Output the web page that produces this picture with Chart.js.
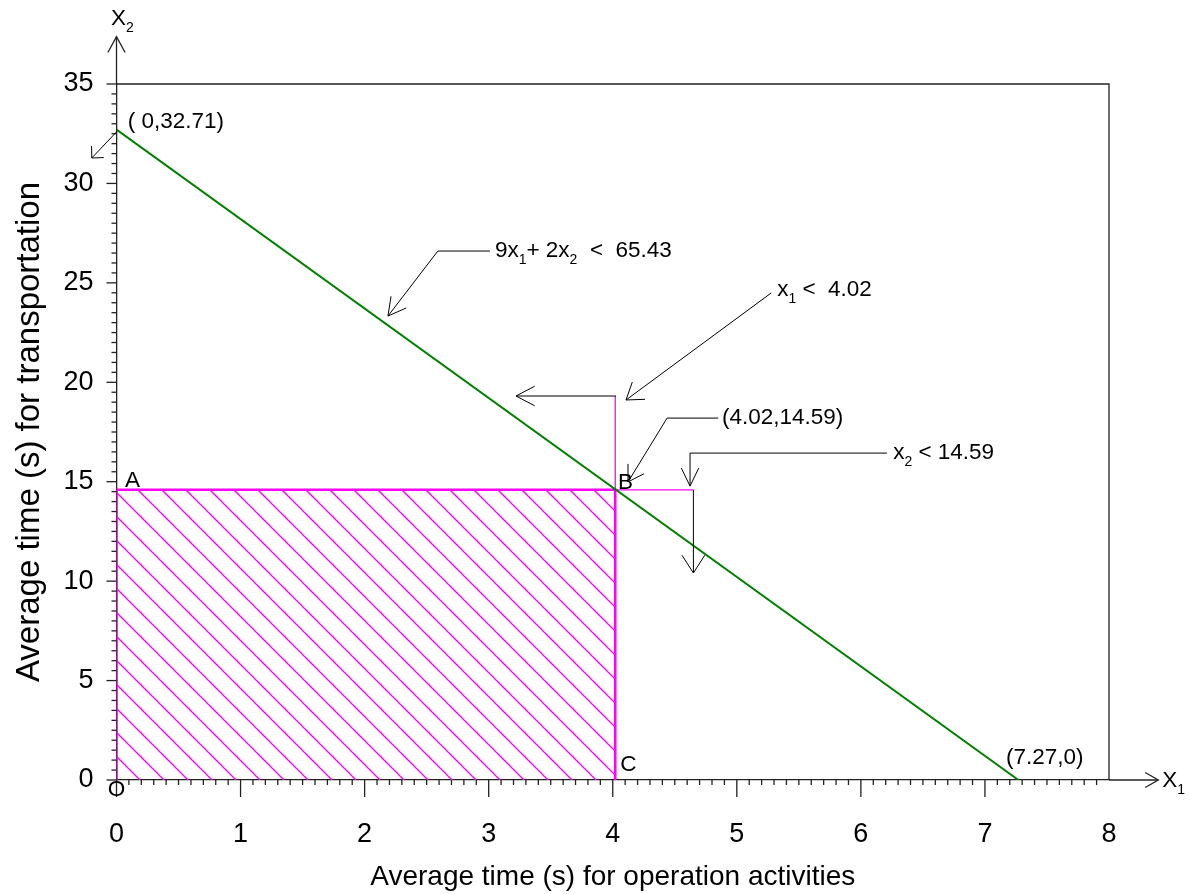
<!DOCTYPE html>
<html>
<head>
<meta charset="utf-8">
<script src="https://cdn.jsdelivr.net/npm/chart.js@4.4.1/dist/chart.umd.min.js"></script>
<style>
  html, body { margin: 0; padding: 0; background: #fff; }
</style>
</head>
<body>
<canvas id="myChart" width="1195" height="894"></canvas>
<script>
// axis ticks
const xTicks = [0, 1, 2, 3, 4, 5, 6, 7, 8];
const yTicks = [0, 5, 10, 15, 20, 25, 30, 35];

// 9x1 + 2x2 < 65.43
const constraintX = [0, 7.27];
const constraintY = [32.71, 0];

// feasible region O-A-B-C
const regionX = [0, 0, 4.02, 4.02];
const regionY = [0, 14.59, 14.59, 0];

// x1 < 4.02 and x2 < 14.59 limit lines
const x1LimitX = [4.02, 4.02];
const x1LimitY = [14.59, 19.31];
const x2LimitX = [4.02, 4.65];
const x2LimitY = [14.59, 14.59];

const FONT = '"Liberation Sans", Arial, sans-serif';
const toPoints = (xs, ys) => xs.map((x, i) => ({ x: x, y: ys[i] }));

// callout arrows (data units), arrowhead at the last point: [path, headLength, headAngle]
const callouts = [
  [[[0, 32.59], [-0.199, 31.28]], 12, 0.78],
  [[[3.01, 26.6], [2.59, 26.6], [2.188, 23.33]], 20, 0.5],
  [[[5.277, 24.49], [4.107, 19.11]], 19, 0.6],
  [[[4.027, 19.31], [3.22, 19.31]], 21, 0.48],
  [[[4.85, 18.2], [4.438, 18.2], [4.123, 14.99]], 18, 0.55],
  [[[6.21, 16.44], [4.623, 16.44], [4.623, 14.78]], 20, 0.45],
  [[[4.65, 14.59], [4.65, 10.41]], 21, 0.57]
];

// text notes: position in data units, [text, isSubscript]
const notes = [
  { at: [0.091, 33.09], parts: [['( 0,32.71)']] },
  { at: [3.05, 26.6], parts: [['9x'], ['1', 1], ['+ 2x'], ['2', 1], ['  <  65.43']] },
  { at: [5.325, 24.64], parts: [['x'], ['1', 1], [' <  4.02']] },
  { at: [4.88, 18.2], parts: [['(4.02,14.59)']] },
  { at: [6.26, 16.44], parts: [['x'], ['2', 1], [' < 14.59']] },
  { at: [0.068, 15.04], parts: [['A']] },
  { at: [4.043, 14.94], parts: [['B']] },
  { at: [4.06, 0.75], parts: [['C']] },
  { at: [-0.07, -0.5], parts: [['O']] },
  { at: [7.17, 1.11], parts: [['(7.27,0)']] },
  { at: [8.43, -0.05], parts: [['X'], ['1', 1]] },
  { at: [-0.045, 38.27], parts: [['X'], ['2', 1]] }
];

function makeHatch() {
  const c = document.createElement('canvas');
  c.width = 24; c.height = 24;
  const g = c.getContext('2d');
  g.strokeStyle = '#ff00ff';
  g.lineWidth = 1.3;
  for (let k = -2; k <= 1; k++) {
    const off = 8 + k * 24;
    g.beginPath();
    g.moveTo(off - 10, -10);
    g.lineTo(off + 40, 40);
    g.stroke();
  }
  return g.createPattern(c, 'repeat');
}

function arrowHead(ctx, from, to, len, ang) {
  const a = Math.atan2(to[1] - from[1], to[0] - from[0]);
  ctx.beginPath();
  ctx.moveTo(to[0] - len * Math.cos(a - ang), to[1] - len * Math.sin(a - ang));
  ctx.lineTo(to[0], to[1]);
  ctx.lineTo(to[0] - len * Math.cos(a + ang), to[1] - len * Math.sin(a + ang));
  ctx.stroke();
}

function drawRich(ctx, parts, x, y, size) {
  ctx.textBaseline = 'middle';
  ctx.textAlign = 'left';
  let cx = x;
  parts.forEach(p => {
    const sub = p[1];
    const fs = sub ? Math.round(size * 0.62) : size;
    ctx.font = fs + 'px ' + FONT;
    ctx.fillText(p[0], cx, y + (sub ? size * 0.4 : 0));
    cx += ctx.measureText(p[0]).width;
  });
}

const decorations = {
  id: 'decorations',
  afterDatasetsDraw(chart) {
    const ctx = chart.ctx;
    const sx = chart.scales.x, sy = chart.scales.y;
    const P = (x, y) => [sx.getPixelForValue(x), sy.getPixelForValue(y)];
    ctx.save();
    ctx.strokeStyle = '#222';
    ctx.lineWidth = 1.3;

    // frame top and right
    ctx.beginPath();
    let a = P(0, 35), b = P(8, 35), c = P(8, 0);
    ctx.moveTo(a[0], a[1]); ctx.lineTo(b[0], b[1]); ctx.lineTo(c[0], c[1]);
    ctx.stroke();

    // x ticks
    for (let i = 0; i < 80; i++) {
      const p = P(i / 10, 0);
      const len = i % 10 === 0 ? 17 : 5;
      ctx.beginPath(); ctx.moveTo(p[0], p[1]); ctx.lineTo(p[0], p[1] + len); ctx.stroke();
    }
    // y ticks
    for (let i = 0; i <= 70; i++) {
      const p = P(0, i / 2);
      const len = i % 10 === 0 ? 10 : 5;
      ctx.beginPath(); ctx.moveTo(p[0], p[1]); ctx.lineTo(p[0] - len, p[1]); ctx.stroke();
    }

    // axis extensions with arrowheads
    a = P(8, 0); b = P(8.397, 0);
    ctx.beginPath(); ctx.moveTo(a[0], a[1]); ctx.lineTo(b[0], b[1]); ctx.stroke();
    arrowHead(ctx, a, b, 15, 0.52);
    a = P(0, 35); b = P(0, 37.38);
    ctx.beginPath(); ctx.moveTo(a[0], a[1]); ctx.lineTo(b[0], b[1]); ctx.stroke();
    arrowHead(ctx, a, b, 18, 0.5);

    // callouts
    ctx.strokeStyle = '#000';
    ctx.lineWidth = 1;
    callouts.forEach(co => {
      const pts = co[0].map(q => P(q[0], q[1]));
      ctx.beginPath();
      pts.forEach((q, i) => i ? ctx.lineTo(q[0], q[1]) : ctx.moveTo(q[0], q[1]));
      ctx.stroke();
      arrowHead(ctx, pts[pts.length - 2], pts[pts.length - 1], co[1], co[2]);
    });

    // texts
    ctx.fillStyle = '#000';
    notes.forEach(n => {
      const p = P(n.at[0], n.at[1]);
      drawRich(ctx, n.parts, p[0], p[1], 22.5);
    });
    ctx.restore();
  }
};

const hatch = makeHatch();

const ctx = document.getElementById('myChart').getContext('2d');
const chart = new Chart(ctx, {
  type: 'scatter',
  data: {
    datasets: [
      {
        label: '9x1 + 2x2 < 65.43',
        data: toPoints(constraintX, constraintY),
        showLine: true,
        borderColor: '#008000',
        borderWidth: 2,
        pointRadius: 0,
        order: 0
      },
      {
        label: 'region outline',
        data: toPoints(regionX, regionY),
        showLine: true,
        borderColor: '#ff00ff',
        borderWidth: 2.5,
        pointRadius: 0,
        order: 1
      },
      {
        label: 'x1 limit',
        data: toPoints(x1LimitX, x1LimitY),
        showLine: true,
        borderColor: '#ff00ff',
        borderWidth: 1.3,
        pointRadius: 0,
        order: 2
      },
      {
        label: 'x2 limit',
        data: toPoints(x2LimitX, x2LimitY),
        showLine: true,
        borderColor: '#ff00ff',
        borderWidth: 1.3,
        pointRadius: 0,
        order: 3
      },
      {
        label: 'feasible region',
        data: toPoints(regionX.slice(1, 3), regionY.slice(1, 3)),
        showLine: true,
        borderWidth: 0,
        borderColor: 'rgba(0,0,0,0)',
        backgroundColor: hatch,
        fill: 'origin',
        pointRadius: 0,
        order: 4
      }
    ]
  },
  options: {
    responsive: false,
    animation: false,
    layout: { padding: { top: 84, right: 86, left: 0, bottom: 0 } },
    plugins: {
      legend: { display: false },
      tooltip: { enabled: false }
    },
    scales: {
      x: {
        type: 'linear',
        min: 0,
        max: 8,
        afterBuildTicks: s => { s.ticks = xTicks.map(v => ({ value: v })); },
        afterFit: s => { s.height = 114; },
        grid: { display: false, drawTicks: false },
        border: { display: true, color: '#222', width: 1.3 },
        ticks: { padding: 38, color: '#000', font: { family: FONT, size: 27 }, maxRotation: 0, autoSkip: false },
        title: {
          display: true,
          text: 'Average time (s) for operation activities',
          color: '#000',
          font: { family: FONT, size: 28 },
          padding: { top: 0, bottom: 0 }
        }
      },
      y: {
        type: 'linear',
        min: 0,
        max: 35,
        afterBuildTicks: s => { s.ticks = yTicks.map(v => ({ value: v })); },
        afterFit: s => { s.width = 116.5; },
        grid: { display: false, drawTicks: false },
        border: { display: true, color: '#222', width: 1.3 },
        ticks: { padding: 23, color: '#000', font: { family: FONT, size: 27 }, autoSkip: false },
        title: {
          display: true,
          text: 'Average time (s) for transportation',
          color: '#000',
          font: { family: FONT, size: 33 },
          padding: { top: 10, bottom: 0 }
        }
      }
    }
  },
  plugins: [decorations]
});
</script>
</body>
</html>
